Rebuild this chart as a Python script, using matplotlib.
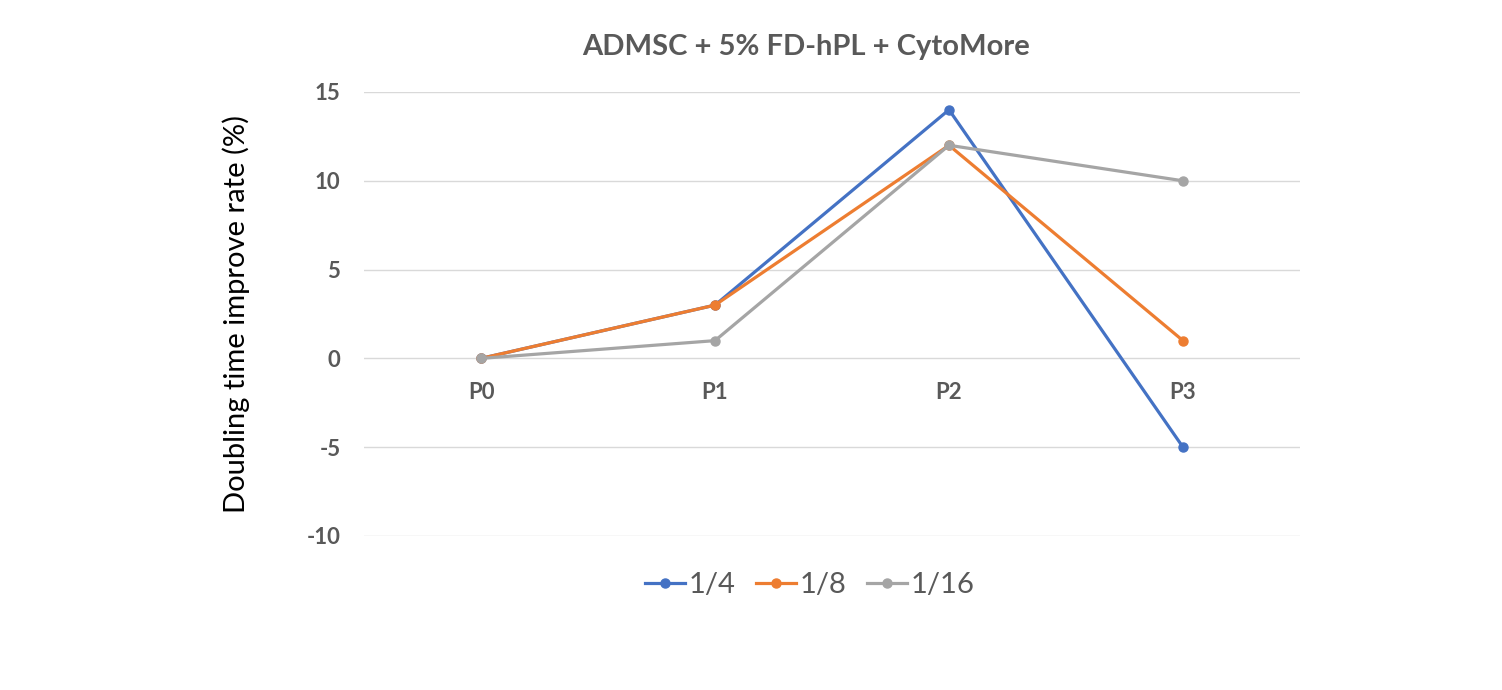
import matplotlib
matplotlib.use("Agg")
import matplotlib.pyplot as plt

categories = ["P0", "P1", "P2", "P3"]
series_names = ["1/4", "1/8", "1/16"]
s_quarter = [0, 3, 14, -5]
s_eighth = [0, 3, 12, 1]
s_sixteenth = [0, 1, 12, 10]
yticks = [-10, -5, 0, 5, 10, 15]
title = "ADMSC + 5% FD-hPL + CytoMore"
ylabel = "Doubling time improve rate (%)"

colors = ["#4472C4", "#ED7D31", "#A5A5A5"]
grey = "#595959"

plt.rcParams['font.family'] = ['Lato', 'DejaVu Sans']

fig = plt.figure(figsize=(15.02, 6.9), dpi=100)
ax = fig.add_axes([364/1502, (690-536)/690, (1300-364)/1502, (536-92)/690])

x = list(range(len(categories)))
for vals, name, c in zip([s_quarter, s_eighth, s_sixteenth], series_names, colors):
    ax.plot(x, vals, color=c, lw=2.3, marker='o', ms=6.5, label=name)

ax.set_xlim(-0.5, len(categories) - 0.5)
ax.set_ylim(-10, 15)
ax.set_yticks(yticks)
ax.set_yticklabels([str(v) for v in yticks], fontsize=16, fontweight='bold', color=grey)
ax.grid(axis='y', color='#D9D9D9', lw=1)
ax.set_axisbelow(True)
for s in ax.spines.values():
    s.set_visible(False)
ax.spines['bottom'].set_position(('data', 0))
ax.set_xticks(x)
ax.set_xticklabels(categories, fontsize=16, fontweight='bold', color=grey)
ax.tick_params(axis='x', length=0, pad=17)
ax.tick_params(axis='y', length=0, pad=17)

ax.set_ylabel(ylabel, fontsize=21, color='black', labelpad=0)
ax.yaxis.set_label_coords(-(364 - 250) / (1300 - 364), 0.5)
fig.text(806/1502, 1 - 47/690, title, fontsize=21, fontweight='bold', color=grey,
         ha='center', va='center')

leg = fig.legend(loc='center', bbox_to_anchor=(810/1502, 1 - 585/690), ncol=3,
                 frameon=False, fontsize=21, handlelength=1.35, columnspacing=0.7,
                 handletextpad=0.15, labelcolor=grey)

fig.savefig("out.png", dpi=100)
